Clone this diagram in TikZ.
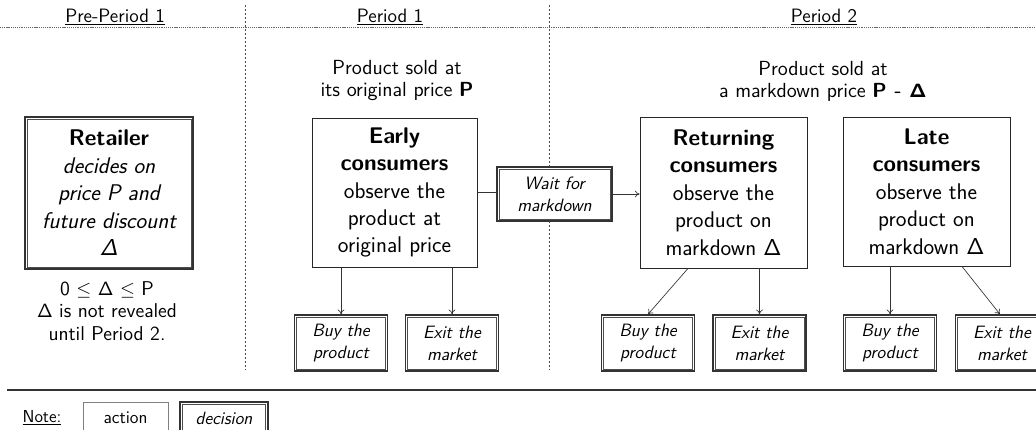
\documentclass[tikz,border=0pt]{standalone}
\usetikzlibrary{arrows.meta}
\DeclareMathAlphabet{\mathsfit}{OT1}{cmss}{m}{sl}
\DeclareMathAlphabet{\mathsfbx}{OT1}{cmss}{bx}{n}
\newcommand{\Dup}{\ensuremath{\mathsf{\Delta}}}
\newcommand{\Dit}{\ensuremath{\mathsfit{\Delta}}}
\newcommand{\Dbf}{\ensuremath{\mathsfbx{\Delta}}}
\newcommand{\decin}[1]{\draw[draw=black!70, line width=0.5pt]
  ([shift={(2.1pt,-2.1pt)}]#1.north west) rectangle ([shift={(-2.1pt,2.1pt)}]#1.south east);}
\begin{document}
\begin{tikzpicture}[x=0.75pt,y=-0.75pt,
  act/.style={draw=black!85, fill=white, line width=0.6pt, align=center, inner sep=0pt},
  dec/.style={draw=black!80, fill=white, line width=1.1pt, align=center, inner sep=0pt},
  bigtxt/.style={font=\sffamily\fontsize{17}{20.6}\selectfont},
  smalltxt/.style={font=\sffamily\itshape\fontsize{13.4}{16.5}\selectfont},
  lbl/.style={align=center, inner sep=0pt, font=\sffamily\fontsize{15.3}{16.5}\selectfont},
  hdr/.style={inner sep=0pt, font=\sffamily\fontsize{14.5}{17}\selectfont},
  outbox/.style={dec, smalltxt, minimum width=69.75pt, minimum height=42pt},
  arr/.style={-{To[length=3.5pt,width=5pt]}, draw=black!80, line width=0.5pt},
  sep/.style={draw=black!70, line width=0.6pt, dash pattern=on 1.5pt off 1.5pt},
]
\useasboundingbox (0,0) rectangle (1036,429);

% headers
\node[hdr] (h0) at (115,17) {\underline{Pre-Period 1}};
\node[hdr] (h1) at (390,17) {\underline{Period 1}};
\node[hdr] (h2) at (824,17) {\underline{Period 2}};

% separators
\coordinate (hl) at (0,27);
\coordinate (hr) at (1036,27);
\draw[draw=black!60, line width=0.6pt, dash pattern=on 0.8pt off 0.6pt] (hl) -- (hr);
\coordinate (v1t) at (245,5);
\coordinate (v1b) at (245,370);
\coordinate (v2t) at (549,5);
\coordinate (v2b) at (549,370);
\draw[sep] (v1t) -- (v1b);
\draw[sep] (v2t) -- (v2b);
\coordinate (bl) at (7,390);
\coordinate (br) at (1036,390);
\draw[draw=black!80, line width=0.9pt] (bl) -- (br);

% period labels
\node[lbl] (p1) at (397,81) {Product sold at\\its original price \textbf{P}};
\node[lbl] (p2) at (823,81) {Product sold at\\a markdown price \textbf{P - \Dbf}};

% retailer
\node[dec, bigtxt, minimum width=126pt, minimum height=114pt] (ret) at (109,193)
  {\textbf{Retailer}\\\itshape decides on\\\itshape price P and\\\itshape future discount\\\Dit};
\decin{ret}
\node[lbl, font=\sffamily\fontsize{15}{17}\selectfont] (cond) at (107,311)
  {0 $\leq$ \Dup{} $\leq$ P\\\Dup{} is not revealed\\until Period 2.};

% consumers
\node[act, bigtxt, minimum width=123.75pt, minimum height=111.75pt] (early) at (394.5,192.5)
  {\textbf{Early}\\\textbf{consumers}\\observe the\\product at\\original price};
\node[dec, smalltxt, minimum width=86.25pt, minimum height=40.5pt] (wait) at (554.5,194)
  {Wait for\\markdown};
\decin{wait}
\node[act, bigtxt, minimum width=125.25pt, minimum height=113.25pt] (retc) at (723.5,192.5)
  {\textbf{Returning}\\\textbf{consumers}\\observe the\\product on\\markdown \Dup};
\node[act, bigtxt, minimum width=125.25pt, minimum height=111.75pt] (late) at (926.5,191.5)
  {\textbf{Late}\\\textbf{consumers}\\observe the\\product on\\markdown \Dup};

% outcomes
\node[outbox] (buy1) at (341,343) {Buy the\\product};
\node[outbox] (exit1) at (452,343) {Exit the\\market};
\node[outbox] (buy2) at (648,343) {Buy the\\product};
\node[outbox] (exit2) at (759.5,343) {Exit the\\market};
\node[outbox] (buy3) at (890,343) {Buy the\\product};
\node[outbox] (exit3) at (1002,343) {Exit the\\market};
\decin{buy1}\decin{exit1}\decin{buy2}\decin{exit2}\decin{buy3}\decin{exit3}

% connectors
\draw[draw=black!80, line width=0.5pt] (early.east) -- (early.east -| wait.west);
\draw[arr] (wait.east) -- (wait.east -| retc.west);
\draw[arr] (buy1.north |- early.south) -- (buy1.north);
\draw[arr] (exit1.north |- early.south) -- (exit1.north);
\draw[arr] ([xshift=-26.6pt]retc.south) -- (buy2.north);
\draw[arr] (exit2.north |- retc.south) -- (exit2.north);
\draw[arr] (buy3.north |- late.south) -- (buy3.north);
\draw[arr] ([xshift=26.6pt]late.south) -- ([xshift=-1.5pt]exit3.north);

% legend (boxes run past the lower edge, as in the reference)
\node[hdr, font=\sffamily\fontsize{13}{15}\selectfont] (note) at (42,418) {\underline{Note:}};
\draw[draw=black!50, line width=0.4pt] (83,402) rectangle (168,445);
\draw[draw=black!80, line width=1.1pt] (180,402) rectangle (268,445);
\draw[draw=black!70, line width=0.5pt] (182.8,404.8) rectangle (265.2,445);
\node[inner sep=0pt, font=\sffamily\fontsize{13.3}{15}\selectfont] (action) at (125.5,418) {action};
\node[inner sep=0pt, font=\sffamily\itshape\fontsize{13.3}{15}\selectfont] (decision) at (224,418) {decision};
\end{tikzpicture}
\end{document}
